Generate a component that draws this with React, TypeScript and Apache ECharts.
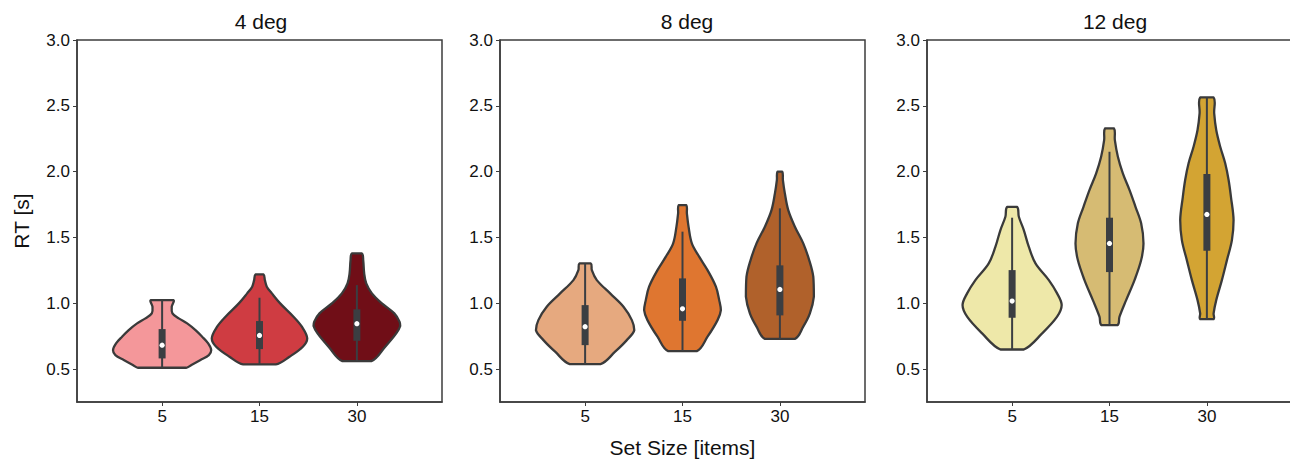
import React, { useEffect, useRef } from "react";
import * as echarts from "echarts";

// ---- data ----
const panelTitles = ["4 deg", "8 deg", "12 deg"];
const setSizes = ["5", "15", "30"];
const yTicks = [0.5, 1.0, 1.5, 2.0, 2.5, 3.0];

// violin outlines: [RT value, half width in category units], top -> bottom
const deg4_ss5 = [[1.024, 0.116], [0.974, 0.099], [0.923, 0.106], [0.885, 0.171], [0.847, 0.257], [0.796, 0.343], [0.746, 0.411], [0.695, 0.473], [0.644, 0.504], [0.606, 0.48], [0.569, 0.394], [0.531, 0.301], [0.51, 0.247]];
const deg4_ss15 = [[1.219, 0.041], [1.176, 0.055], [1.126, 0.075], [1.075, 0.127], [0.999, 0.212], [0.898, 0.349], [0.822, 0.435], [0.733, 0.49], [0.67, 0.445], [0.594, 0.308], [0.536, 0.168]];
const deg4_ss30 = [[1.379, 0.051], [1.328, 0.065], [1.227, 0.075], [1.151, 0.096], [1.075, 0.154], [0.999, 0.257], [0.923, 0.384], [0.86, 0.438], [0.827, 0.445], [0.771, 0.404], [0.67, 0.291], [0.561, 0.149]];
const deg8_ss5 = [[1.303, 0.058], [1.252, 0.069], [1.176, 0.12], [1.075, 0.257], [0.974, 0.394], [0.872, 0.48], [0.796, 0.505], [0.72, 0.428], [0.632, 0.308], [0.538, 0.158]];
const deg8_ss15 = [[1.746, 0.038], [1.683, 0.045], [1.582, 0.062], [1.455, 0.096], [1.354, 0.171], [1.252, 0.257], [1.126, 0.343], [1.024, 0.377], [0.948, 0.394], [0.872, 0.36], [0.746, 0.257], [0.637, 0.147]];
const deg8_ss30 = [[2.0, 0.024], [1.936, 0.031], [1.835, 0.051], [1.708, 0.086], [1.582, 0.154], [1.455, 0.24], [1.328, 0.301], [1.202, 0.343], [1.05, 0.349], [0.923, 0.308], [0.822, 0.24], [0.73, 0.154]];
const deg12_ss5 = [[1.733, 0.051], [1.657, 0.069], [1.556, 0.12], [1.43, 0.171], [1.303, 0.24], [1.176, 0.377], [1.075, 0.462], [0.986, 0.509], [0.898, 0.462], [0.771, 0.308], [0.649, 0.12]];
const deg12_ss15 = [[2.329, 0.045], [2.24, 0.055], [2.113, 0.086], [1.987, 0.137], [1.86, 0.206], [1.733, 0.267], [1.607, 0.325], [1.455, 0.349], [1.328, 0.325], [1.176, 0.257], [1.024, 0.171], [0.898, 0.103], [0.834, 0.082]];
const deg12_ss30 = [[2.564, 0.069], [2.443, 0.075], [2.316, 0.096], [2.189, 0.137], [2.063, 0.188], [1.936, 0.223], [1.809, 0.247], [1.632, 0.274], [1.48, 0.257], [1.328, 0.206], [1.176, 0.154], [1.024, 0.096], [0.923, 0.069], [0.88, 0.069]];

// box stats per panel (order: set size 5, 15, 30)
const deg4_q1 = [0.581, 0.652, 0.715];
const deg4_median = [0.682, 0.756, 0.845];
const deg4_q3 = [0.804, 0.865, 0.954];
const deg4_whiskerLow = [0.51, 0.536, 0.561];
const deg4_whiskerHigh = [1.024, 1.042, 1.138];

const deg8_q1 = [0.682, 0.867, 0.908];
const deg8_median = [0.822, 0.958, 1.105];
const deg8_q3 = [0.986, 1.189, 1.288];
const deg8_whiskerLow = [0.538, 0.637, 0.73];
const deg8_whiskerHigh = [1.303, 1.544, 1.721];

const deg12_q1 = [0.89, 1.237, 1.399];
const deg12_median = [1.017, 1.455, 1.675];
const deg12_q3 = [1.252, 1.65, 1.982];
const deg12_whiskerLow = [0.649, 0.834, 0.88];
const deg12_whiskerHigh = [1.65, 2.151, 2.564];

const deg4_colors = ["#F4979A", "#CF3C42", "#700E17"];
const deg8_colors = ["#E6A97F", "#DF7630", "#B0612B"];
const deg12_colors = ["#EEE8A9", "#D6BB73", "#D3A433"];

const panels = [
  { profiles: [deg4_ss5, deg4_ss15, deg4_ss30], q1: deg4_q1, med: deg4_median, q3: deg4_q3, lo: deg4_whiskerLow, hi: deg4_whiskerHigh, colors: deg4_colors },
  { profiles: [deg8_ss5, deg8_ss15, deg8_ss30], q1: deg8_q1, med: deg8_median, q3: deg8_q3, lo: deg8_whiskerLow, hi: deg8_whiskerHigh, colors: deg8_colors },
  { profiles: [deg12_ss5, deg12_ss15, deg12_ss30], q1: deg12_q1, med: deg12_median, q3: deg12_q3, lo: deg12_whiskerLow, hi: deg12_whiskerHigh, colors: deg12_colors },
];

const FONT = "Liberation Sans, Arial, Helvetica, sans-serif";
const SPINE = "#3d3d3d";
const OUTLINE = "#3a3a3a";
const BOXC = "#3b3e42";
const gridLefts = [77, 500, 927];
const titleCenters = [256, 682, 1110];
const GRID_W = 365;
const GRID_TOP = 40;
const GRID_H = 362;
const XMIN = -0.874;
const XMAX = 2.874;

export default function App() {
  const ref = useRef<HTMLDivElement>(null);
  useEffect(() => {
    if (!ref.current) return;
    const chart = echarts.init(ref.current, null, { renderer: "svg" });

    const grids = gridLefts.map((l) => ({
      left: l,
      top: GRID_TOP,
      width: GRID_W,
      height: GRID_H,
      show: true,
      borderColor: SPINE,
      borderWidth: 1.5,
      backgroundColor: "transparent",
      containLabel: false,
      outerBoundsMode: "none",
    }));

    const xAxes = panels.map((_, k) => ({
      type: "value",
      gridIndex: k,
      min: XMIN,
      max: XMAX,
      splitLine: { show: false },
      axisLine: { show: true, onZero: false, lineStyle: { color: SPINE, width: 1.5 } },
      axisTick: { show: true, customValues: [0, 1, 2], length: 4, lineStyle: { color: SPINE, width: 1 } },
      axisLabel: {
        show: true,
        customValues: [0, 1, 2],
        formatter: (v: number) => setSizes[Math.round(v)] ?? "",
        color: "#111",
        fontSize: 17,
        fontFamily: FONT,
        margin: 6,
      },
      name: k === 1 ? "Set Size [items]" : "",
      nameLocation: "middle",
      nameGap: 35,
      nameTextStyle: { fontSize: 21, fontFamily: FONT, color: "#111" },
    }));

    const yAxes = panels.map((_, k) => ({
      type: "value",
      gridIndex: k,
      min: 0.25,
      max: 3.0,
      splitLine: { show: false },
      axisLine: { show: true, onZero: false, lineStyle: { color: SPINE, width: 1.5 } },
      axisTick: { show: true, customValues: yTicks, length: 4, lineStyle: { color: SPINE, width: 1 } },
      axisLabel: {
        show: true,
        customValues: yTicks,
        formatter: (v: number) => v.toFixed(1),
        color: "#111",
        fontSize: 17,
        fontFamily: FONT,
        margin: 7,
      },
      name: k === 0 ? "RT [s]" : "",
      nameLocation: "middle",
      nameGap: 45,
      nameRotate: 90,
      nameTextStyle: { fontSize: 21, fontFamily: FONT, color: "#111" },
    }));

    const series = panels.map((p, k) => ({
      type: "custom",
      xAxisIndex: k,
      yAxisIndex: k,
      data: p.med.map((m, i) => [i, m]),
      encode: { x: 0, y: 1 },
      renderItem: (params: any, api: any) => {
        const i = params.dataIndex;
        const prof = p.profiles[i];
        const pts: number[][] = [];
        for (let j = 0; j < prof.length; j++) pts.push(api.coord([i + prof[j][1], prof[j][0]]));
        for (let j = prof.length - 1; j >= 0; j--) pts.push(api.coord([i - prof[j][1], prof[j][0]]));
        let minX = Infinity, minY = Infinity, maxX = -Infinity, maxY = -Infinity;
        for (const q of pts) {
          minX = Math.min(minX, q[0]); maxX = Math.max(maxX, q[0]);
          minY = Math.min(minY, q[1]); maxY = Math.max(maxY, q[1]);
        }
        const c = api.coord([i, p.med[i]]);
        const yq3 = api.coord([i, p.q3[i]])[1];
        const yq1 = api.coord([i, p.q1[i]])[1];
        const ylo = api.coord([i, p.lo[i]])[1];
        const yhi = api.coord([i, p.hi[i]])[1];
        return {
          type: "group",
          children: [
            {
              type: "polygon",
              shape: { points: pts, smooth: 0.35, smoothConstraint: [[minX, minY], [maxX, maxY]] },
              style: { fill: p.colors[i], stroke: OUTLINE, lineWidth: 2.3, lineJoin: "round" },
            },
            {
              type: "line",
              shape: { x1: c[0], y1: yhi, x2: c[0], y2: ylo },
              style: { stroke: BOXC, lineWidth: 2 },
            },
            {
              type: "rect",
              shape: { x: c[0] - 3.5, y: yq3, width: 7, height: yq1 - yq3 },
              style: { fill: BOXC },
            },
            {
              type: "circle",
              shape: { cx: c[0], cy: c[1], r: 2.6 },
              style: { fill: "#ffffff" },
            },
          ],
        };
      },
    }));

    chart.setOption({
      animation: false,
      backgroundColor: "#ffffff",
      title: panelTitles.map((t, k) => ({
        text: t,
        left: titleCenters[k],
        top: 6,
        textAlign: "center",
        textStyle: { fontSize: 21, fontWeight: "normal", fontFamily: FONT, color: "#111" },
      })),
      grid: grids,
      xAxis: xAxes,
      yAxis: yAxes,
      series,
    } as any);

    return () => chart.dispose();
  }, []);

  return (
    <div
      ref={ref}
      style={{ position: "fixed", left: 0, top: 0, width: 1290, height: 460, background: "#fff" }}
    />
  );
}
